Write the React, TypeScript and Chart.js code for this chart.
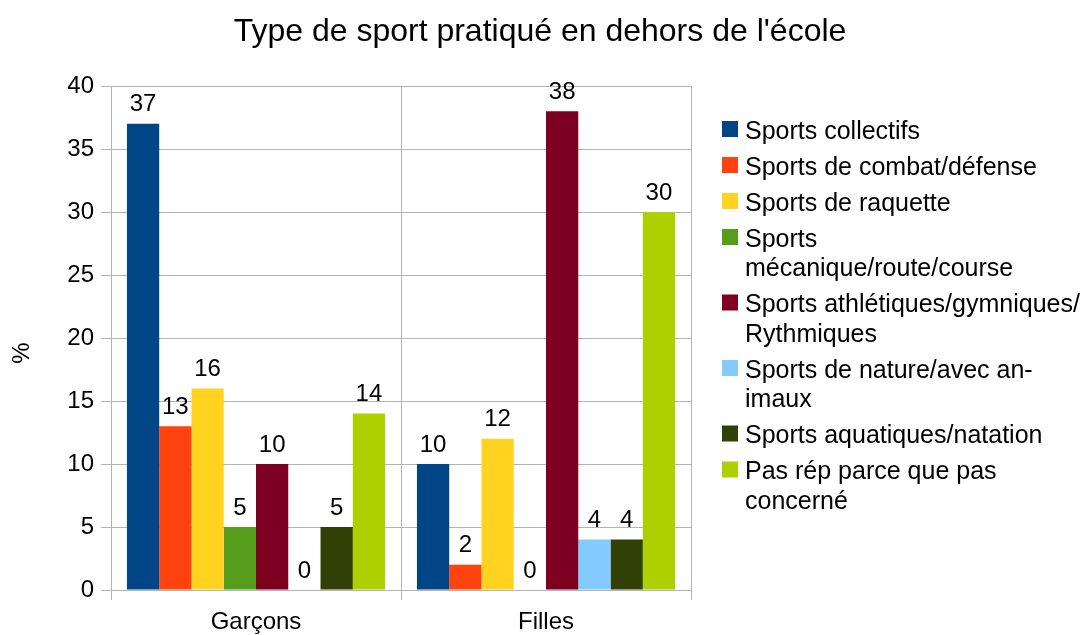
import React, { useEffect, useRef } from "react";
import { Chart, registerables } from "chart.js";

Chart.register(...registerables);

const chartTitle = "Type de sport pratiqué en dehors de l'école";
const yAxisTitle = "%";
const categories = ["Garçons", "Filles"];

const seriesLabels = [
  "Sports collectifs",
  "Sports de combat/défense",
  "Sports de raquette",
  "Sports mécanique/route/course",
  "Sports athlétiques/gymniques/Rythmiques",
  "Sports de nature/avec animaux",
  "Sports aquatiques/natation",
  "Pas rép parce que pas concerné",
];
const legendLines = [
  ["Sports collectifs"],
  ["Sports de combat/défense"],
  ["Sports de raquette"],
  ["Sports", "mécanique/route/course"],
  ["Sports athlétiques/gymniques/", "Rythmiques"],
  ["Sports de nature/avec an-", "imaux"],
  ["Sports aquatiques/natation"],
  ["Pas rép parce que pas", "concerné"],
];

const collectifs = [37, 10];
const combat = [13, 2];
const raquette = [16, 12];
const mecanique = [5, 0];
const athletiques = [10, 38];
const nature = [0, 4];
const aquatiques = [5, 4];
const pasRep = [14, 30];

const seriesColors = [
  "#004586",
  "#ff420e",
  "#ffd320",
  "#579d1c",
  "#7e0021",
  "#83caff",
  "#314004",
  "#aecf00",
];

const yMin = 0;
const yMax = 40;
const yStep = 5;

const FONT = "'Liberation Sans', Arial, sans-serif";

const textPlugin = {
  id: "customText",
  afterDatasetsDraw(chart: any) {
    const ctx = chart.ctx;
    ctx.save();
    ctx.fillStyle = "#000";
    ctx.font = `24px ${FONT}`;
    ctx.textAlign = "center";
    ctx.textBaseline = "alphabetic";
    chart.data.datasets.forEach((ds: any, i: number) => {
      const meta = chart.getDatasetMeta(i);
      meta.data.forEach((bar: any, j: number) => {
        ctx.fillText(String(ds.data[j]), bar.x, bar.y - 12.5);
      });
    });
    ctx.restore();
  },
  afterDraw(chart: any) {
    const ctx = chart.ctx;
    ctx.save();
    // title
    ctx.fillStyle = "#000";
    ctx.font = `32px ${FONT}`;
    ctx.textAlign = "center";
    ctx.textBaseline = "alphabetic";
    ctx.fillText(chartTitle, 540, 41);
    // y axis title
    ctx.save();
    ctx.translate(22.5, 353);
    ctx.rotate(-Math.PI / 2);
    ctx.font = `24px ${FONT}`;
    ctx.textAlign = "center";
    ctx.textBaseline = "middle";
    ctx.fillText(yAxisTitle, 0, 0);
    ctx.restore();
    // legend
    ctx.font = `25px ${FONT}`;
    ctx.textAlign = "left";
    ctx.textBaseline = "alphabetic";
    let y = 138.5;
    chart.data.datasets.forEach((ds: any, i: number) => {
      const lines = legendLines[i];
      ctx.fillStyle = ds.backgroundColor;
      ctx.fillRect(722, y - 17.5, 16, 16);
      ctx.fillStyle = "#000";
      lines.forEach((ln: string, j: number) => ctx.fillText(ln, 745, y + j * 29.5));
      y += (lines.length - 1) * 29.5 + 36;
    });
    ctx.restore();
  },
};

export default function App() {
  const canvasRef = useRef<HTMLCanvasElement | null>(null);

  useEffect(() => {
    if (!canvasRef.current) return;
    const series = [collectifs, combat, raquette, mecanique, athletiques, nature, aquatiques, pasRep];
    const chart = new Chart(canvasRef.current, {
      type: "bar",
      data: {
        labels: categories,
        datasets: series.map((d, i) => ({
          label: seriesLabels[i],
          data: d,
          backgroundColor: seriesColors[i],
          borderWidth: 0,
          barPercentage: 1.0,
          categoryPercentage: 0.89,
        })),
      },
      options: {
        responsive: false,
        animation: false,
        devicePixelRatio: 1,
        layout: { padding: { left: 0, right: 394, top: 86, bottom: 0 } },
        plugins: {
          legend: { display: false },
          title: { display: false },
          tooltip: { enabled: false },
        },
        scales: {
          x: {
            grid: {
              color: "#b3b3b3",
              lineWidth: 1,
              tickLength: 10,
              offset: true,
            },
            border: { color: "#b3b3b3" },
            ticks: {
              color: "#000",
              font: { family: FONT, size: 24 },
              padding: 8,
            },
            afterFit(scale: any) {
              scale.height = 45;
            },
          },
          y: {
            min: yMin,
            max: yMax,
            grid: { color: "#b3b3b3", lineWidth: 1, tickLength: 10 },
            border: { color: "#b3b3b3" },
            ticks: {
              stepSize: yStep,
              color: "#000",
              font: { family: FONT, size: 24 },
              padding: 7,
            },
            afterFit(scale: any) {
              scale.width = 111;
            },
          },
        },
      },
      plugins: [textPlugin],
    });
    return () => chart.destroy();
  }, []);

  return (
    <div style={{ position: "fixed", left: 0, top: 0, width: 1085, height: 635, background: "#fff" }}>
      <canvas ref={canvasRef} width={1085} height={635} style={{ display: "block" }} />
    </div>
  );
}
